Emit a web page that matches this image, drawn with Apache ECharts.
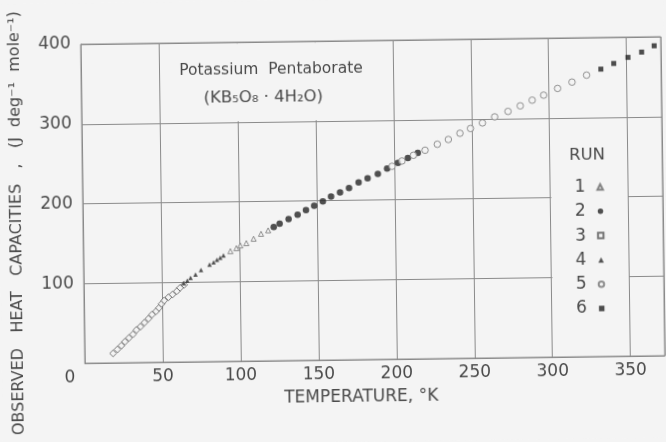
<!DOCTYPE html>
<html>
<head>
<meta charset="utf-8">
<script src="https://cdn.jsdelivr.net/npm/echarts@6/dist/echarts.min.js"></script>
<style>
html,body{margin:0;padding:0;background:#f4f4f4;}
#c{width:666px;height:442px;transform:rotate(-0.75deg);transform-origin:333px 221px;}
</style>
</head>
<body>
<div id="c"></div>
<script>
// ---- tick labels ----
const xTicks = [50, 100, 150, 200, 250, 300, 350];
const yTicks = [100, 200, 300, 400];
const runNames = ['1', '2', '3', '4', '5', '6'];

// ---- data (temperature K, heat capacity J deg-1 mole-1) ----
const run1T  = [94.3, 98.2, 100.7, 104.6, 109.3, 114.1, 118.7];
const run1Cp = [138.1, 141.8, 145.1, 147.9, 153.3, 159.4, 163.6];

const run2T  = [122.3, 126.1, 131.9, 137.7, 143.1, 148.4, 154.0, 159.3, 165.1, 170.9, 177.1, 182.9, 189.5, 195.5, 202.5, 208.9, 215.3];
const run2Cp = [167.6, 171.7, 177.3, 182.8, 188.4, 193.8, 199.1, 204.9, 210.1, 215.3, 222.4, 227.3, 232.5, 239.1, 246.0, 252.1, 258.2];

const run3T  = [18.2, 21.0, 23.6, 25.9, 28.5, 31.1, 33.4, 36.0, 38.6, 41.2, 43.5, 46.1, 48.0, 49.7, 51.4, 54.2, 56.8, 59.6, 61.7, 64.3];
const run3Cp = [11.9, 16.8, 21.5, 26.4, 31.0, 35.5, 41.0, 45.0, 50.0, 54.9, 59.9, 63.9, 68.1, 73.1, 77.3, 81.4, 84.7, 88.8, 93.0, 96.7];

const run4T  = [64.1, 66.4, 68.5, 71.7, 75.3, 80.8, 83.4, 85.6, 87.7, 89.8];
const run4Cp = [98.7, 102.0, 105.4, 109.4, 115.2, 121.7, 124.6, 127.6, 130.0, 132.9];

const run5T  = [198.7, 205.1, 212.5, 220.0, 227.9, 235.0, 242.5, 249.3, 257.0, 264.9, 273.5, 281.4, 289.1, 296.5, 305.5, 314.8, 324.2];
const run5Cp = [241.9, 248.4, 255.4, 261.5, 268.8, 274.6, 282.2, 288.0, 294.8, 302.2, 308.8, 315.6, 322.5, 328.6, 336.8, 344.5, 353.0];

const run6T  = [333.4, 341.7, 350.9, 359.7, 367.8];
const run6Cp = [360.3, 367.2, 374.6, 381.0, 388.7];

const zip = (a, b) => a.map((v, i) => [v, b[i]]);

const BG = '#f4f4f4';
const INK = '#4a4a4a';
const LINE = '#8a8a8a';
const FONT = 'DejaVu Sans';

const chart = echarts.init(document.getElementById('c'), null, {renderer: 'canvas'});

const option = {
  backgroundColor: BG,
  animation: false,
  grid: {left: 83, right: 3, top: 41, bottom: 82, show: true, borderColor: LINE, borderWidth: 1},
  xAxis: {
    type: 'value', min: 0, max: 372, interval: 50,
    axisLine: {show: true, lineStyle: {color: LINE, width: 1}},
    axisTick: {show: false},
    splitLine: {show: true, lineStyle: {color: LINE, width: 1}},
    axisLabel: {
      margin: 6, fontSize: 17, fontFamily: FONT, color: INK,
      formatter: v => xTicks.includes(v) ? String(v) : ''
    }
  },
  yAxis: {
    type: 'value', min: 0, max: 400, interval: 100,
    axisLine: {show: true, lineStyle: {color: LINE, width: 1}},
    axisTick: {show: false},
    splitLine: {show: true, lineStyle: {color: LINE, width: 1}},
    axisLabel: {
      margin: 10, fontSize: 17, fontFamily: FONT, color: INK,
      formatter: v => yTicks.includes(v) ? String(v) : ''
    }
  },
  legend: {
    orient: 'vertical', left: 570, top: 177, align: 'right',
    itemWidth: 5.5, itemHeight: 5.5, itemGap: 7.3,
    selectedMode: false, symbolRotate: 0,
    textStyle: {fontSize: 17, lineHeight: 16, fontFamily: FONT, color: INK, padding: [0, 7, 0, 0]},
    data: [
      {name: '1', icon: 'triangle'},
      {name: '2', icon: 'circle'},
      {name: '3', icon: 'rect'},
      {name: '4', icon: 'triangle'},
      {name: '5', icon: 'circle'},
      {name: '6', icon: 'rect'}
    ]
  },
  graphic: [
    {type: 'rect', z: 1, silent: true, shape: {x: 162, y: 42.3, width: 232, height: 77.6}, style: {fill: BG}},
    {type: 'rect', z: 1, silent: true, shape: {x: 551.6, y: 130, width: 76.4, height: 192}, style: {fill: BG}},
    {type: 'text', z: 5, x: 273, y: 69, style: {text: 'Potassium  Pentaborate', font: '15.5px "DejaVu Sans"', fill: INK, textAlign: 'center', textVerticalAlign: 'middle'}},
    {type: 'text', z: 5, x: 265, y: 97, style: {text: '(KB₅O₈ · 4H₂O)', font: '16.5px "DejaVu Sans"', fill: INK, textAlign: 'center', textVerticalAlign: 'middle'}},
    {type: 'text', z: 5, x: 588, y: 159, style: {text: 'RUN', font: '16.5px "DejaVu Sans"', fill: INK, textAlign: 'center', textVerticalAlign: 'middle'}},
    {type: 'text', z: 5, x: 68, y: 375, style: {text: '0', font: '17px "DejaVu Sans"', fill: INK, textAlign: 'center', textVerticalAlign: 'middle'}},
    {type: 'text', z: 5, x: 359, y: 398, style: {text: 'TEMPERATURE, °K', font: '17px "DejaVu Sans"', fill: INK, textAlign: 'center', textVerticalAlign: 'middle'}},
    {type: 'text', z: 5, x: 17, y: 219, rotation: Math.PI / 2,
     style: {text: 'OBSERVED   HEAT   CAPACITIES   ,   (J  deg⁻¹  mole⁻¹)', font: '16px "DejaVu Sans"', fill: INK, textAlign: 'center', textVerticalAlign: 'middle'}}
  ],
  series: [
    {name: '1', type: 'scatter', symbol: 'triangle', symbolSize: 5, data: zip(run1T, run1Cp),
     itemStyle: {color: BG, borderColor: '#666', borderWidth: 0.9}},
    {name: '2', type: 'scatter', symbol: 'circle', symbolSize: 6.5, data: zip(run2T, run2Cp),
     itemStyle: {color: '#262626'}},
    {name: '3', type: 'scatter', symbol: 'rect', symbolSize: 4.8, symbolRotate: 45, data: zip(run3T, run3Cp),
     itemStyle: {color: BG, borderColor: '#555', borderWidth: 0.9}},
    {name: '4', type: 'scatter', symbol: 'triangle', symbolSize: 4.5, data: zip(run4T, run4Cp),
     itemStyle: {color: '#2a2a2a'}},
    {name: '5', type: 'scatter', symbol: 'circle', symbolSize: 6.5, data: zip(run5T, run5Cp),
     itemStyle: {color: BG, borderColor: '#777', borderWidth: 1}},
    {name: '6', type: 'scatter', symbol: 'rect', symbolSize: 5, data: zip(run6T, run6Cp),
     itemStyle: {color: '#222'}}
  ]
};
chart.setOption(option);
</script>
</body>
</html>
